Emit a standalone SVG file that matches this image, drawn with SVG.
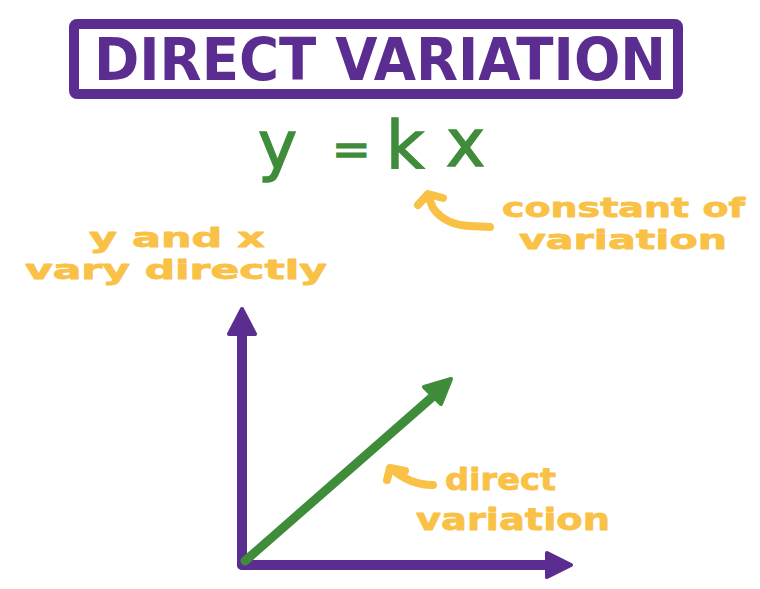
<svg xmlns="http://www.w3.org/2000/svg" width="760" height="589" viewBox="0 0 760 589">
<defs>
<style>
.purple{fill:none;stroke:#5b2d90;stroke-width:10;stroke-linecap:round;stroke-linejoin:round}
.pfill{fill:#5b2d90;stroke:#5b2d90;stroke-width:4;stroke-linejoin:round}
.green{fill:none;stroke:#3f8c3b;stroke-width:9;stroke-linecap:round;stroke-linejoin:round}
.gfill{fill:#3f8c3b;stroke:#3f8c3b;stroke-width:4;stroke-linejoin:round}
.yel{fill:none;stroke:#f9c145;stroke-width:8;stroke-linecap:round;stroke-linejoin:round}
.title{font-family:"DejaVu Sans","Liberation Sans",sans-serif;font-weight:bold;font-size:58px;fill:#5b2d90}
.eq{font-family:"DejaVu Sans","Liberation Sans",sans-serif;font-size:66px;fill:#3f8c3b;stroke:#3f8c3b;stroke-width:1.5}
.note{font-family:"DejaVu Sans","Liberation Sans",sans-serif;font-weight:bold;font-size:27px;fill:#f9c145;stroke:#f9c145;stroke-width:0.8;stroke-linejoin:round}
.big{font-size:31px}
</style>
</defs>
<rect width="760" height="589" fill="#ffffff"/>
<g id="title">
<rect x="74" y="24" width="604" height="70" rx="3" class="purple"/>
<text x="94" y="80" class="title" textLength="572" lengthAdjust="spacingAndGlyphs">DIRECT VARIATION</text>
</g>
<g id="equation">
<text class="eq"><tspan x="258" y="168">y</tspan> <tspan x="332" y="165" font-size="46">=</tspan> <tspan x="386" y="168">k</tspan><tspan x="446" y="166">x</tspan></text>
</g>
<g id="constant-label">
<text x="502" y="217" class="note" textLength="243" lengthAdjust="spacingAndGlyphs">constant of</text>
<text x="519" y="249" class="note" textLength="208" lengthAdjust="spacingAndGlyphs">variation</text>
</g>
<g id="vary-label">
<text x="89" y="247" class="note" textLength="176" lengthAdjust="spacingAndGlyphs">y and x</text>
<text x="25" y="279" class="note" textLength="302" lengthAdjust="spacingAndGlyphs">vary directly</text>
</g>
<g id="direct-label">
<text x="445" y="490" class="note big" textLength="111" lengthAdjust="spacingAndGlyphs">direct</text>
<text x="416" y="530" class="note big" textLength="194" lengthAdjust="spacingAndGlyphs">variation</text>
</g>
<g id="connectors">
<line x1="242" y1="565" x2="242" y2="330" class="purple"/>
<path d="M229,334 L242,309 L255,334 Z" class="pfill"/>
<line x1="242" y1="565" x2="550" y2="565" class="purple"/>
<path d="M547,553 L571,565 L547,577 Z" class="pfill"/>
<line x1="245" y1="561" x2="438" y2="392" class="green"/>
<path d="M424,387 L451,379 L441,404 Z" class="gfill"/>
<path d="M490,227 L470,226 Q445,225 433,208 L428,196" class="yel"/>
<path d="M418,205 L428,194 L443,198" class="yel"/>
<path d="M433,485 Q410,485 392,469" class="yel"/>
<path d="M387,480 L390,468 L405,471" class="yel"/>
</g>
</svg>
